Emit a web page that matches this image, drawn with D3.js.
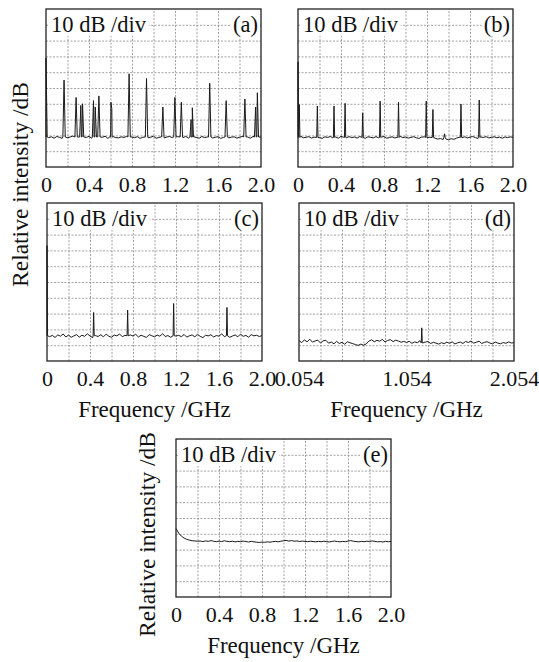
<!DOCTYPE html>
<html>
<head>
<meta charset="utf-8">
<script src="https://cdn.jsdelivr.net/npm/d3@7"></script>
<style>
  body { margin: 0; background: #fff; }
  text { font-family: 'Liberation Serif', 'Times New Roman', serif; fill: #111; }
</style>
</head>
<body>
<script>
// Dados de entrada
// amostras do ruido de fundo a cada 0.025 GHz (81 pontos por painel), em dB
var passo = 0.025

const ruidoA = [-80.6, -81.4, -80.9, -81.8, -80.7, -81.2, -81.9, -80.8, -81.5, -81.0,
  -80.4, -81.6, -81.1, -80.9, -81.7, -81.3, -80.6, -81.8, -81.0, -80.7,
  -81.5, -81.2, -80.5, -81.9, -81.1, -80.8, -81.4, -81.6, -80.9, -81.3,
  -80.6, -81.7, -81.0, -81.4, -80.8, -81.9, -81.2, -80.7, -81.5, -81.1,
  -80.5, -81.8, -81.3, -80.9, -81.6, -81.0, -80.7, -81.4, -81.9, -80.8,
  -81.2, -81.5, -80.6, -81.7, -81.1, -80.9, -81.3, -81.8, -80.7, -81.4,
  -81.0, -80.6, -81.6, -81.2, -80.8, -81.9, -81.3, -80.5, -81.5, -81.1,
  -80.9, -81.7, -81.2, -80.6, -81.4, -81.0, -81.8, -80.7, -81.3, -81.6, -81.1]

const ruidoB = [-81.0, -80.6, -81.5, -81.2, -80.8, -81.7, -81.1, -80.5, -81.4, -81.9,
  -80.9, -81.3, -80.7, -81.6, -81.0, -81.8, -80.6, -81.2, -81.5, -80.8,
  -81.4, -81.0, -81.7, -80.7, -81.3, -81.9, -80.9, -81.2, -81.6, -80.8,
  -81.5, -81.1, -80.7, -81.8, -81.3, -80.9, -81.6, -81.2, -80.6, -81.4,
  -81.0, -81.7, -81.3, -80.8, -81.5, -81.9, -81.1, -80.9, -81.6, -81.2,
  -81.4, -81.8, -82.3, -82.0, -82.6, -82.2, -82.8, -82.1, -82.5, -81.7,
  -81.2, -81.5, -80.9, -81.6, -81.1, -80.7, -81.4, -81.9, -81.0, -81.3,
  -80.8, -81.6, -81.2, -80.9, -81.5, -81.1, -81.8, -81.0, -81.4, -80.9, -81.3]

const ruidoC = [-83.2, -84.6, -83.8, -85.1, -83.5, -84.3, -82.9, -84.8, -83.6, -85.0,
  -84.1, -83.3, -84.9, -83.7, -84.4, -82.8, -84.2, -85.2, -83.9, -84.5,
  -83.4, -84.7, -83.0, -84.3, -85.0, -83.6, -84.1, -82.9, -84.6, -83.8,
  -84.9, -83.5, -84.2, -83.1, -84.8, -83.7, -84.4, -85.1, -83.3, -84.0,
  -84.7, -83.6, -84.3, -82.7, -84.5, -83.9, -85.0, -83.4, -84.2, -83.8,
  -84.6, -83.2, -84.9, -84.0, -83.5, -84.7, -83.1, -84.4, -85.2, -83.7,
  -84.1, -83.4, -84.8, -83.9, -84.3, -82.8, -84.6, -83.6, -85.0, -84.2,
  -83.5, -84.7, -83.0, -84.4, -83.8, -84.9, -83.3, -84.1, -83.7, -84.5, -83.9]

const ruidoD = [-87.0, -88.4, -86.6, -87.9, -86.2, -88.1, -87.3, -86.8, -88.6, -87.2,
  -86.9, -88.7, -88.0, -89.1, -87.6, -88.9, -88.2, -89.4, -87.8, -88.5,
  -89.0, -89.6, -90.1, -89.3, -90.0, -89.2, -87.4, -86.6, -87.8, -86.9,
  -87.5, -86.3, -87.9, -87.0, -86.5, -87.7, -86.8, -87.4, -88.1, -87.6,
  -88.3, -87.5, -88.8, -87.9, -88.4, -87.2, -88.6, -88.0, -87.7, -88.9,
  -88.2, -88.7, -89.3, -88.4, -89.0, -88.1, -88.8, -87.9, -89.2, -88.5,
  -88.0, -88.9, -87.6, -88.3, -87.4, -88.7, -88.1, -87.5, -88.9, -88.2,
  -87.8, -88.6, -89.2, -88.0, -88.7, -89.1, -88.3, -88.8, -87.9, -88.6, -88.4]

const ruidoE = [-56.6, -59.6, -61.5, -62.7, -63.5, -64.0, -64.4, -64.5, -64.7,
  -64.6, -64.9, -64.5, -64.8, -64.3, -64.7, -65.0, -64.6, -64.9, -64.4, -64.8,
  -65.0, -64.7, -65.1, -64.8, -65.0, -64.6, -64.9, -65.2, -64.8, -65.1,
  -65.3, -65.5, -65.2, -65.4, -65.1, -65.3, -65.0, -64.8, -65.1, -64.7,
  -64.4, -64.2, -64.6, -64.3, -64.7, -64.5, -64.9, -64.6, -64.8, -65.0,
  -64.7, -64.9, -65.1, -64.8, -65.0, -64.7, -64.9, -65.2, -64.8, -64.6,
  -64.9, -65.1, -64.8, -65.0, -64.6, -64.3, -64.7, -64.9, -65.1, -64.8,
  -65.0, -64.7, -64.9, -64.5, -64.8, -65.1, -64.9, -65.2, -64.8, -65.0, -64.9]

// picos [frequencia GHz, nivel dB]
const picosA = [[0, -31], [0.168, -45], [0.280, -56], [0.324, -61], [0.340, -60],
  [0.442, -58], [0.458, -62], [0.492, -55], [0.604, -59], [0.612, -63],
  [0.773, -41], [0.935, -44], [1.087, -62], [1.199, -56], [1.259, -59],
  [1.350, -70], [1.361, -62.5], [1.523, -47], [1.676, -58], [1.850, -57],
  [1.950, -62], [1.966, -53]]

const picosB = [[0, -33.5], [0.012, -60.5], [0.180, -61.4], [0.335, -61.4],
  [0.438, -59.7], [0.602, -65.7], [0.764, -58.3], [0.935, -59.1], [1.193, -58.3],
  [1.255, -63.6], [1.363, -79], [1.516, -60.2], [1.686, -57.6]]

const picosC = [[0, -27], [0.434, -69.3], [0.750, -67.8], [1.178, -63.6], [1.674, -66.1]]

const picosD = [[1.196, -79]]

// nivel do ruido na base dos picos (dB)
const chaos = [-81, -81.3, -84, -88.5]

// rotulos dos eixos
const ticksGHz = [0, 0.4, 0.8, 1.2, 1.6, 2.0]
const rotulosGHz = ['0', '0.4', '0.8', '1.2', '1.6', '2.0']
const ticksD = [0.054, 1.054, 2.054]
const rotulosD = ['0.054', '1.054', '2.054']
const letras = ['(a)', '(b)', '(c)', '(d)', '(e)']
const textoEscala = '10 dB /div'
const tituloX = 'Frequency /GHz'
const tituloY = 'Relative intensity /dB'

// definindo dimensões
const largura = 215
const altura = 158

var paineis = [
  {x: 46, y: 9, inicio: 0, ruido: ruidoA, picos: picosA, chao: chaos[0], meia: 0.011, ticks: ticksGHz, rotulos: rotulosGHz, tituloX: false},
  {x: 298, y: 9, inicio: 0, ruido: ruidoB, picos: picosB, chao: chaos[1], meia: 0.006, ticks: ticksGHz, rotulos: rotulosGHz, tituloX: false},
  {x: 47, y: 203, inicio: 0, ruido: ruidoC, picos: picosC, chao: chaos[2], meia: 0.005, ticks: ticksGHz, rotulos: rotulosGHz, tituloX: true},
  {x: 299, y: 203, inicio: 0.054, ruido: ruidoD, picos: picosD, chao: chaos[3], meia: 0.005, ticks: ticksD, rotulos: rotulosD, tituloX: true},
  {x: 176, y: 439, inicio: 0, ruido: ruidoE, picos: [], chao: 0, meia: 0, ticks: ticksGHz, rotulos: rotulosGHz, tituloX: true}
]

// criando SVG
var meuSVG = d3.select('body')
                .append('svg')
                  .attr('width', 539)
                  .attr('height', 662)

paineis.forEach(function (p, k) {
  var grupo = meuSVG.append('g')
                .attr('transform', 'translate(' + p.x + ',' + p.y + ')')

  // escalas
  var xEscala = d3.scaleLinear()
                  .domain([p.inicio, p.inicio + 2])
                  .range([0, largura])
                  .clamp(true)
  var yEscala = d3.scaleLinear()
                  .domain([-100, 0])
                  .range([altura, 0])

  // grade 10 x 10
  var grade = grupo.append('g').attr('class', 'grade')
  grade.append('g')
        .attr('transform', 'translate(0,' + altura + ')')
        .call(d3.axisBottom(xEscala)
                .tickValues(d3.range(1, 10).map(function (i) { return p.inicio + i * 0.2 }))
                .tickSize(-altura)
                .tickFormat(''))
  grade.append('g')
        .call(d3.axisLeft(yEscala)
                .tickValues(d3.range(-90, 0, 10))
                .tickSize(-largura)
                .tickFormat(''))
  grade.selectAll('.domain').remove()
  grade.selectAll('line')
        .attr('stroke', '#8a8a8a')
        .attr('stroke-width', 0.8)
        .attr('stroke-dasharray', '2,1.5')

  // juntando ruido e picos num único traço
  var pontos = p.ruido.map(function (v, i) { return {f: p.inicio + i * passo, db: v} })
  p.picos.forEach(function (pk) {
    pontos = pontos.filter(function (d) { return Math.abs(d.f - pk[0]) > p.meia })
  })
  p.picos.forEach(function (pk) {
    pontos.push({f: pk[0] - p.meia, db: p.chao})
    pontos.push({f: pk[0], db: pk[1]})
    pontos.push({f: pk[0] + p.meia, db: p.chao})
  })
  pontos.sort(function (a, b) { return a.f - b.f })

  var geradorLinha = d3.line()
                  .x(function (d) { return xEscala(d.f) })
                  .y(function (d) { return yEscala(d.db) })

  grupo.append('path')
        .attr('d', geradorLinha(pontos))
        .attr('fill', 'none')
        .attr('stroke', '#1a1a1a')
        .attr('stroke-width', 1)
        .attr('stroke-linejoin', 'round')

  // rotulos "10 dB /div" e letra do painel com fundo branco
  var yTexto = altura / 10 + 7.5
  var tEscala = grupo.append('text')
                  .attr('x', 5)
                  .attr('y', yTexto)
                  .attr('font-size', '22.5px')
                  .text(textoEscala)
  var tLetra = grupo.append('text')
                  .attr('x', largura - 3)
                  .attr('y', yTexto)
                  .attr('text-anchor', 'end')
                  .attr('font-size', '22.5px')
                  .text(letras[k])
  ;[tEscala, tLetra].forEach(function (t) {
    var b = t.node().getBBox()
    grupo.insert('rect', function () { return t.node() })
          .attr('x', Math.max(1, b.x - 2))
          .attr('y', 1)
          .attr('width', b.width + 4)
          .attr('height', 26)
          .attr('fill', '#fff')
  })

  // moldura
  grupo.append('rect')
        .attr('width', largura)
        .attr('height', altura)
        .attr('fill', 'none')
        .attr('stroke', '#222')
        .attr('stroke-width', 1.3)

  // eixo com rotulos de frequencia
  var eixoBase = grupo.append('g')
                  .attr('transform', 'translate(0,' + altura + ')')
                  .call(d3.axisBottom(xEscala)
                          .tickValues(p.ticks)
                          .tickSize(0)
                          .tickPadding(9.5)
                          .tickFormat(function (d, i) { return p.rotulos[i] }))
  eixoBase.select('.domain').remove()
  eixoBase.selectAll('text')
          .attr('font-size', '22px')
          .attr('font-family', "'Liberation Serif', serif")
          .attr('fill', '#111')

  if (p.tituloX) {
    grupo.append('text')
          .attr('x', largura / 2)
          .attr('y', altura + 56)
          .attr('text-anchor', 'middle')
          .attr('font-size', '23px')
          .text(tituloX)
  }
})

// titulos verticais
function tituloVertical (x, y) {
  meuSVG.append('text')
        .attr('transform', 'translate(' + x + ',' + y + ') rotate(-90)')
        .attr('text-anchor', 'middle')
        .attr('dominant-baseline', 'central')
        .attr('font-size', '23.5px')
        .text(tituloY)
}
tituloVertical(20, 184.5)
tituloVertical(147, 534.5)
</script>
</body>
</html>
